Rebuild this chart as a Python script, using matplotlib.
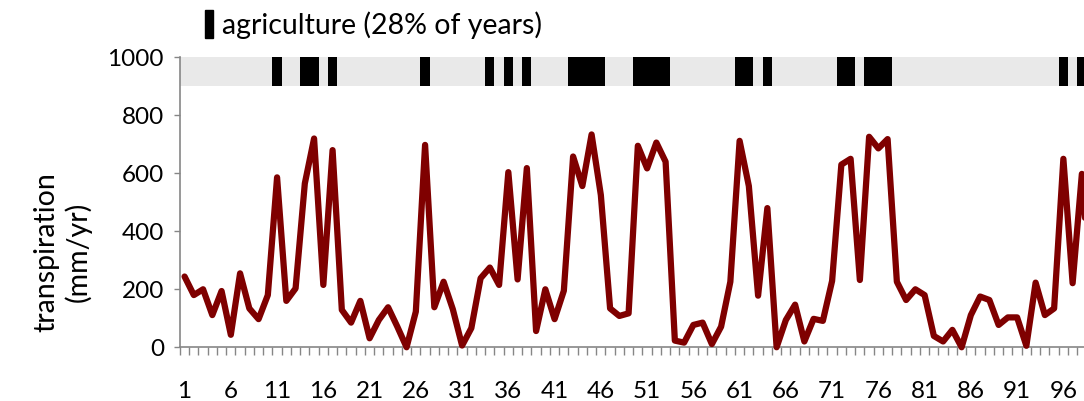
import matplotlib
matplotlib.use("Agg")
import matplotlib.pyplot as plt
from matplotlib.patches import Rectangle
import numpy as np

# yearly transpiration (mm/yr), years 1..100
years = np.arange(1, 101)
transpiration = [
    244, 180, 200, 111, 194, 43, 255, 134, 97, 180,
    586, 160, 203, 565, 720, 215, 680, 129, 85, 160,
    31, 94, 138, 71, 0, 123, 698, 138, 226, 131,
    6, 66, 238, 275, 215, 604, 234, 618, 56, 200,
    97, 195, 658, 556, 734, 525, 134, 108, 117, 695,
    617, 706, 640, 23, 16, 77, 85, 11, 71, 226,
    712, 556, 178, 480, 0, 94, 147, 20, 98, 91,
    229, 630, 650, 232, 726, 686, 718, 226, 163, 200,
    180, 39, 20, 60, 0, 111, 175, 163, 77, 103,
    103, 5, 223, 111, 134, 650, 221, 598, 150, 610,
]
# years under agriculture
ag_years = [11, 14, 15, 17, 27, 34, 36, 38, 43, 44, 45, 46, 50, 51, 52, 53,
            61, 62, 64, 72, 73, 75, 76, 77, 96, 98, 99, 100]
yticks = [0, 200, 400, 600, 800, 1000]
xtick_years = np.arange(1, 101, 5)

plt.rcParams['font.family'] = ['Lato', 'DejaVu Sans']
tick_fs = 17.5
text_fs = 20.5
grey = '#868686'

fig = plt.figure(figsize=(10.84, 4.01), dpi=100)
ax = fig.add_axes([0.166, 0.134, 0.834, 0.723])

# agriculture strip across the top
ax.axhspan(900, 1000, color='#e9e9e9', lw=0, zorder=1)
ax.bar(ag_years, 100, bottom=900, width=1.0, color='black', lw=0, zorder=2)

ax.plot(years, transpiration, color='#7f0000', lw=4.5,
        solid_joinstyle='round', solid_capstyle='round', zorder=4, clip_on=False)

ax.set_yticks(yticks)
ax.tick_params(axis='y', colors=grey, labelcolor='black', labelsize=tick_fs,
               length=4.5, width=1, pad=7)
ax.set_xticks(xtick_years)
ax.set_xticks(np.arange(0.5, 101, 1), minor=True)
ax.tick_params(axis='x', which='major', length=0, labelsize=tick_fs, pad=24)
ax.tick_params(axis='x', which='minor', colors=grey, length=6, width=1)

# the axis runs on past the right edge of the figure
ax.set_xlim(0.5, 98.23)
ax.set_ylim(0, 1000)

for side in ['top', 'right']:
    ax.spines[side].set_visible(False)
for side in ['left', 'bottom']:
    ax.spines[side].set_color(grey)
    ax.spines[side].set_linewidth(1.2)

fig.text(0.058, 1 - 252 / 401, 'transpiration\n(mm/yr)', rotation=90,
         ha='center', va='center', fontsize=text_fs, linespacing=1.2)

# legend entry for the agriculture strip
pct = round(100 * len(ag_years) / len(years))
fig.patches.append(Rectangle((205 / 1084, 1 - 38 / 401), 8 / 1084, 28 / 401,
                             transform=fig.transFigure, color='black'))
fig.text(222 / 1084, 1 - 25 / 401, f'agriculture ({pct}% of years)',
         ha='left', va='center', fontsize=text_fs)

fig.savefig('out.png', dpi=100)
